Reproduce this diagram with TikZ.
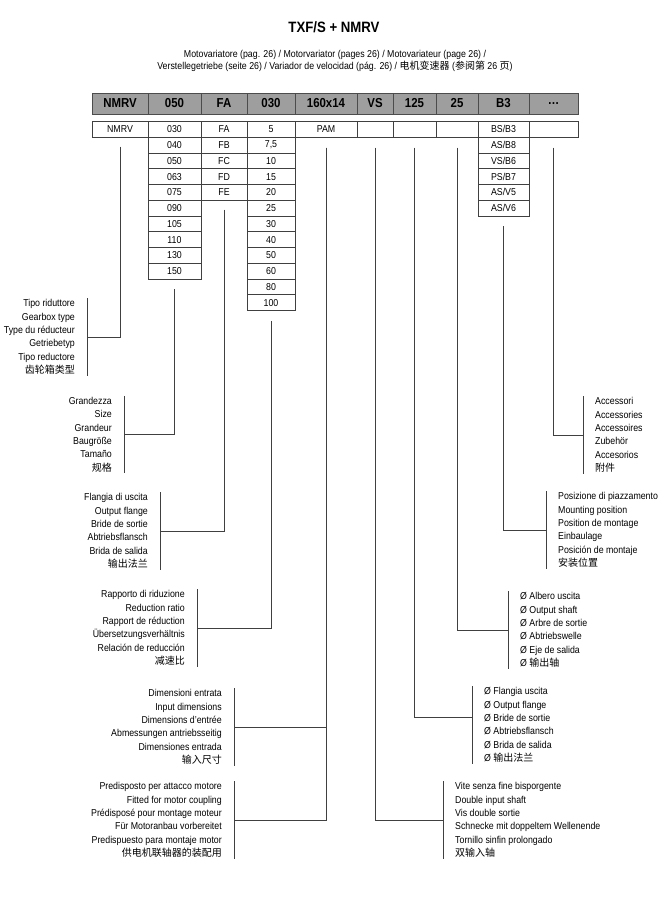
\documentclass[tikz,border=0pt]{standalone}
\usepackage{fontspec}
\setmainfont{Liberation Sans}[FakeStretch=0.88]
\newfontfamily\zh{Noto Sans CJK SC}

\begin{document}
\begin{tikzpicture}[x=1pt, y=-1pt,
  head/.style={draw=black!70, fill=black!38, line width=0.8pt, minimum height=21pt, inner sep=0pt, font=\fontsize{13}{14}\selectfont\bfseries},
  cell/.style={draw=black!75, line width=0.7pt, minimum height=15.75pt, inner sep=0pt, font=\fontsize{10}{12}\selectfont},
  lab/.style={inner xsep=12pt, inner ysep=1pt, font=\fontsize{10}{13.4}\selectfont},
  link/.style={draw=black!75, line width=0.7pt}]
\useasboundingbox (0,0) rectangle (668,897);

\node[font=\fontsize{15}{18}\selectfont\bfseries] (title) at (334,27) {TXF/S + NMRV};
\node[align=center, font=\fontsize{10}{12}\selectfont] (sub) at (335,61)
  {Motovariatore (pag. 26) / Motorvariator (pages 26) / Motovariateur (page 26) /\\
   Verstellegetriebe (seite 26) / Variador de velocidad (pág. 26) / {\zh 电机变速器} ({\zh 参阅第} 26 {\zh 页})};

% header
\foreach \t/\xa/\xb [count=\i] in {NMRV/92/148, 050/148/201, FA/201/247, 030/247/295, 160x14/295/357,
    VS/357/393, 125/393/436, 25/436/478, B3/478/529, \ldots/529/578}
  \node[head, minimum width={(\xb-\xa)*1pt}] (h\i) at ({(\xa+\xb)/2},103.5) {\t};

% first row
\foreach \t/\xa/\xb/\n in {NMRV/92/148/r1, PAM/295/357/r5, {}/357/393/r6, {}/393/436/r7,
    {}/436/478/r8, {}/529/578/r10}
  \node[cell, minimum width={(\xb-\xa)*1pt}] (\n) at ({(\xa+\xb)/2},129.4) {\t};

% columns
\foreach \v [count=\r from 0] in {030,040,050,063,075,090,105,110,130,150}
  \node[cell, minimum width=53pt] (sz\r) at (174.5,{129.4+15.75*\r}) {\v};
\foreach \v [count=\r from 0] in {FA,FB,FC,FD,FE}
  \node[cell, minimum width=46pt] (fl\r) at (224,{129.4+15.75*\r}) {\v};
\foreach \v [count=\r from 0] in {5,{7,5},10,15,20,25,30,40,50,60,80,100}
  \node[cell, minimum width=48pt] (ra\r) at (271,{129.4+15.75*\r}) {\v};
\foreach \v [count=\r from 0] in {BS/B3,AS/B8,VS/B6,PS/B7,AS/V5,AS/V6}
  \node[cell, minimum width=51pt] (mp\r) at (503.5,{129.4+15.75*\r}) {\v};

% labels
\node[lab, anchor=east, align=right] (tipo) at (87,337)
  {Tipo riduttore\\Gearbox type\\Type du réducteur\\Getriebetyp\\Tipo reductore\\{\zh 齿轮箱类型}};
\node[lab, anchor=east, align=right] (grand) at (124,434.5)
  {Grandezza\\Size\\Grandeur\\Baugröße\\Tamaño\\{\zh 规格}};
\node[lab, anchor=east, align=right] (flang) at (160,531)
  {Flangia di uscita\\Output flange\\Bride de sortie\\Abtriebsflansch\\Brida de salida\\{\zh 输出法兰}};
\node[lab, anchor=east, align=right] (rapp) at (197,628)
  {Rapporto di riduzione\\Reduction ratio\\Rapport de réduction\\Übersetzungsverhältnis\\Relación de reducción\\{\zh 减速比}};
\node[lab, anchor=east, align=right] (dimin) at (234,727)
  {Dimensioni entrata\\Input dimensions\\Dimensions d'entrée\\Abmessungen antriebsseitig\\Dimensiones entrada\\{\zh 输入尺寸}};
\node[lab, anchor=east, align=right] (predisp) at (234,820)
  {Predisposto per attacco motore\\Fitted for motor coupling\\Prédisposé pour montage moteur\\Für Motoranbau vorbereitet\\Predispuesto para montaje motor\\{\zh 供电机联轴器的装配用}};
\node[lab, anchor=west, align=left] (vite) at (443,820)
  {Vite senza fine bisporgente\\Double input shaft\\Vis double sortie\\Schnecke mit doppeltem Wellenende\\Tornillo sinfin prolongado\\{\zh 双输入轴}};
\node[lab, anchor=west, align=left] (flout) at (472,725)
  {Ø Flangia uscita\\Ø Output flange\\Ø Bride de sortie\\Ø Abtriebsflansch\\Ø Brida de salida\\Ø {\zh 输出法兰}};
\node[lab, anchor=west, align=left] (albero) at (508,630)
  {Ø Albero uscita\\Ø Output shaft\\Ø Arbre de sortie\\Ø Abtriebswelle\\Ø Eje de salida\\Ø {\zh 输出轴}};
\node[lab, anchor=west, align=left] (posiz) at (546,530)
  {Posizione di piazzamento\\Mounting position\\Position de montage\\Einbaulage\\Posición de montaje\\{\zh 安装位置}};
\node[lab, anchor=west, align=left] (access) at (583,435)
  {Accessori\\Accessories\\Accessoires\\Zubehör\\Accesorios\\{\zh 附件}};

% brackets
\foreach \n in {tipo,grand,flang,rapp,dimin,predisp}
  \draw[link] (\n.north east) -- (\n.south east);
\foreach \n in {vite,flout,albero,posiz,access}
  \draw[link] (\n.north west) -- (\n.south west);

% connectors
\draw[link] ([yshift=-9pt]r1.south) |- (tipo.east);
\draw[link] ([yshift=-10pt]sz9.south) |- (grand.east);
\draw[link] ([yshift=-9pt]fl4.south) |- (flang.east);
\draw[link] ([yshift=-10pt]ra11.south) |- (rapp.east);
\draw[link] ([yshift=-10pt]r5.south) |- (dimin.east);
\draw[link] ([yshift=-10pt]r5.south) |- (predisp.east);
\draw[link] ([yshift=-10pt]r6.south) |- (vite.west);
\draw[link] ([yshift=-10pt]r7.south) |- ([yshift=8pt]flout.west);
\draw[link] ([yshift=-10pt]r8.south) |- (albero.west);
\draw[link] ([yshift=-10pt]mp5.south) |- (posiz.west);
\draw[link] ([yshift=-10pt]r10.south) |- (access.west);
\end{tikzpicture}
\end{document}
